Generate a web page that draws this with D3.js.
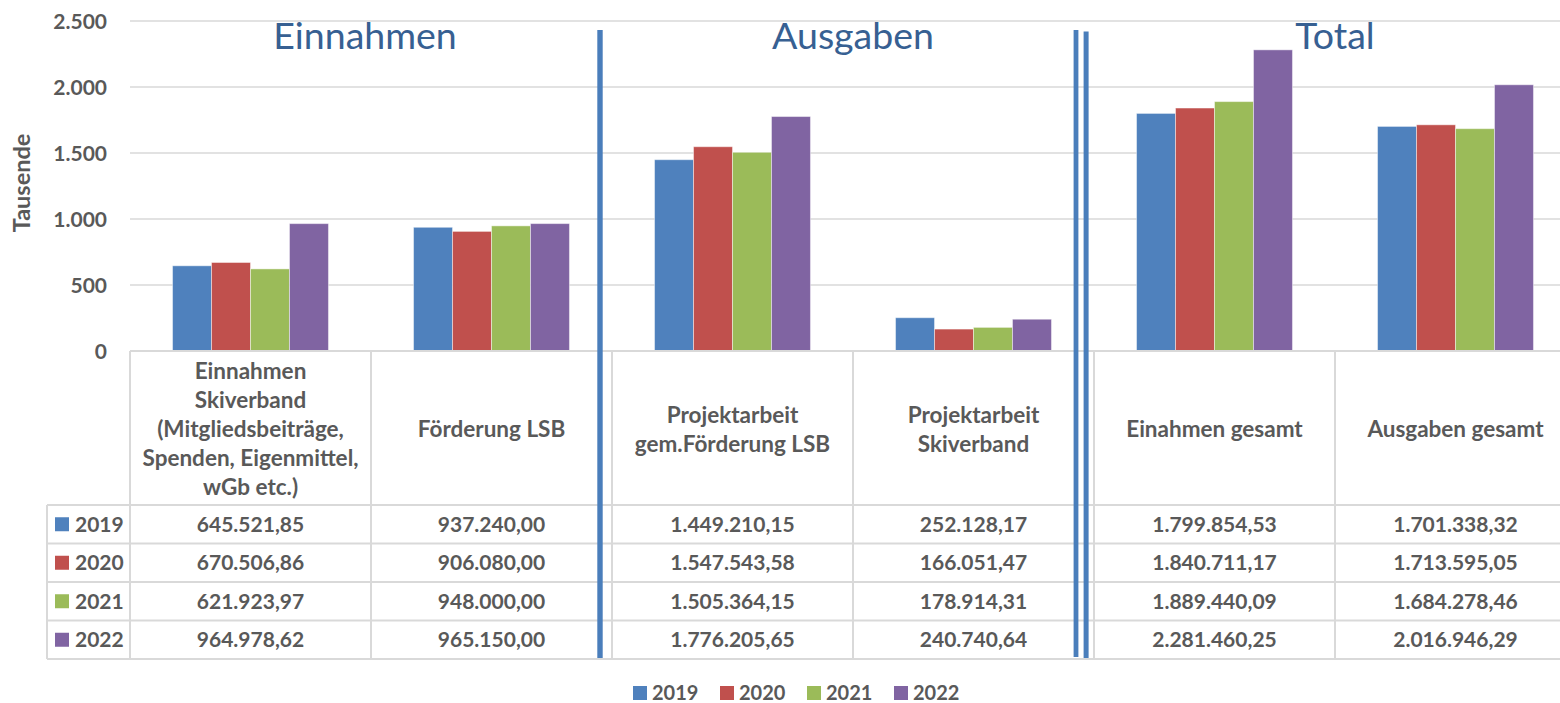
<!DOCTYPE html>
<html><head><meta charset="utf-8">
<script src="https://cdn.jsdelivr.net/npm/d3@7"></script>
<style>body{margin:0;background:#fff}svg{display:block}text{font-family:Lato,"Open Sans",sans-serif}</style>
</head><body>
<svg id="c" width="1560" height="703"></svg>
<script>
const categories = [
  "Einnahmen\nSkiverband\n(Mitgliedsbeiträge,\nSpenden, Eigenmittel,\nwGb etc.)",
  "Förderung LSB",
  "Projektarbeit\ngem.Förderung LSB",
  "Projektarbeit\nSkiverband",
  "Einahmen gesamt",
  "Ausgaben gesamt"
];
const years = ["2019", "2020", "2021", "2022"];
const values2019 = [645521.85, 937240.00, 1449210.15, 252128.17, 1799854.53, 1701338.32];
const values2020 = [670506.86, 906080.00, 1547543.58, 166051.47, 1840711.17, 1713595.05];
const values2021 = [621923.97, 948000.00, 1505364.15, 178914.31, 1889440.09, 1684278.46];
const values2022 = [964978.62, 965150.00, 1776205.65, 240740.64, 2281460.25, 2016946.29];
const yTicks = [0, 500, 1000, 1500, 2000, 2500];
const sectionTitles = ["Einnahmen", "Ausgaben", "Total"];
const colors = ["#4F81BD", "#C0504D", "#9BBB59", "#8064A2"];

const series = [values2019, values2020, values2021, values2022];
const de = d3.formatLocale({decimal: ",", thousands: ".", grouping: [3], currency: ["", "€"]});
const fmtVal = de.format(",.2f");
const fmtTick = de.format(",.0f");

const svg = d3.select("#c");
const textCol = "#595959", gridCol = "#D9D9D9";
const x0 = d3.scaleBand().domain(categories).range([130, 1576]);
const bw = x0.bandwidth();
const x1 = d3.scaleBand().domain(years).range([bw * 0.1765, bw * 0.8235]);
const y = d3.scaleLinear().domain([0, 2500]).range([351, 21]);

// gridlines
svg.append("g").selectAll("line").data(yTicks.slice(1)).join("line")
  .attr("x1", 130).attr("x2", 1576).attr("y1", d => y(d)).attr("y2", d => y(d))
  .attr("stroke", gridCol).attr("stroke-width", 1.5);

// y tick labels
svg.append("g").selectAll("text").data(yTicks).join("text")
  .attr("x", 107).attr("y", d => y(d)).attr("dy", "0.36em")
  .attr("text-anchor", "end").attr("font-size", 21).attr("font-weight", 700)
  .attr("fill", textCol).text(d => fmtTick(d));

svg.append("text").attr("transform", "translate(30,183) rotate(-90)")
  .attr("text-anchor", "middle").attr("font-size", 23.5).attr("font-weight", 700)
  .attr("fill", textCol).text("Tausende");

// bars
const g = svg.append("g");
categories.forEach((c, ci) => {
  years.forEach((yr, yi) => {
    const v = series[yi][ci] / 1000;
    g.append("rect")
      .attr("x", x0(c) + x1(yr)).attr("width", x1.bandwidth())
      .attr("y", y(v)).attr("height", y(0) - y(v))
      .attr("fill", colors[yi]).attr("stroke", "rgba(255,255,255,0.45)").attr("stroke-width", 1);
  });
});

// table
const rowTop = 505, rowH = 38.5;
const tbl = svg.append("g").attr("stroke", gridCol).attr("stroke-width", 2);
tbl.append("line").attr("x1", 130).attr("x2", 1576).attr("y1", y(0)).attr("y2", y(0));
for (let r = 0; r <= years.length; r++) {
  tbl.append("line").attr("x1", 47).attr("x2", 1576)
    .attr("y1", rowTop + r * rowH).attr("y2", rowTop + r * rowH);
}
tbl.append("line").attr("x1", 47).attr("x2", 47).attr("y1", rowTop).attr("y2", rowTop + years.length * rowH);
categories.forEach(c => {
  tbl.append("line").attr("x1", x0(c)).attr("x2", x0(c)).attr("y1", y(0)).attr("y2", rowTop + years.length * rowH);
});

// header text
categories.forEach(c => {
  const lines = c.split("\n");
  const lh = 29, cy = (y(0) + rowTop) / 2 + 1;
  const t = svg.append("text").attr("text-anchor", "middle").attr("font-size", 22.5)
    .attr("font-weight", 700).attr("fill", textCol);
  lines.forEach((l, i) => {
    t.append("tspan").attr("x", x0(c) + bw / 2)
      .attr("y", cy + (i - (lines.length - 1) / 2) * lh).attr("dy", "0.36em").text(l);
  });
});

// row labels and values
years.forEach((yr, yi) => {
  const cy = rowTop + yi * rowH + rowH / 2;
  svg.append("rect").attr("x", 55).attr("y", cy - 7).attr("width", 14).attr("height", 14).attr("fill", colors[yi]);
  svg.append("text").attr("x", 75).attr("y", cy).attr("dy", "0.36em")
    .attr("font-size", 21).attr("font-weight", 700).attr("fill", textCol).text(yr);
  categories.forEach((c, ci) => {
    svg.append("text").attr("x", x0(c) + bw / 2).attr("y", cy).attr("dy", "0.36em")
      .attr("text-anchor", "middle").attr("font-size", 21).attr("font-weight", 700)
      .attr("fill", textCol).text(fmtVal(series[yi][ci]));
  });
});

// separators
const sepCol = "#4A7EBB";
const sep1 = x0(categories[2]) - 12;
svg.append("rect").attr("x", sep1 - 2.7).attr("y", 30).attr("width", 5.4).attr("height", 628).attr("fill", sepCol);
const sep2 = x0(categories[4]) - 18;
svg.append("rect").attr("x", sep2 - 2.4).attr("y", 30).attr("width", 4.8).attr("height", 627).attr("fill", sepCol);
svg.append("rect").attr("x", sep2 + 7.6).attr("y", 31.5).attr("width", 5).attr("height", 626.5).attr("fill", sepCol);

// section titles
const titleX = [(130 + sep1) / 2, x0(categories[3]), x0(categories[5])];
sectionTitles.forEach((t, i) => {
  svg.append("text").attr("x", titleX[i]).attr("y", 49).attr("text-anchor", "middle")
    .attr("font-size", 37.5).attr("fill", "#376092").text(t);
});

// bottom legend
const legX = [633, 720, 807, 894];
years.forEach((yr, i) => {
  svg.append("rect").attr("x", legX[i]).attr("y", 686).attr("width", 14).attr("height", 14).attr("fill", colors[i]);
  svg.append("text").attr("x", legX[i] + 19).attr("y", 693).attr("dy", "0.36em")
    .attr("font-size", 20).attr("font-weight", 700).attr("fill", textCol).text(yr);
});
</script>
</body></html>
